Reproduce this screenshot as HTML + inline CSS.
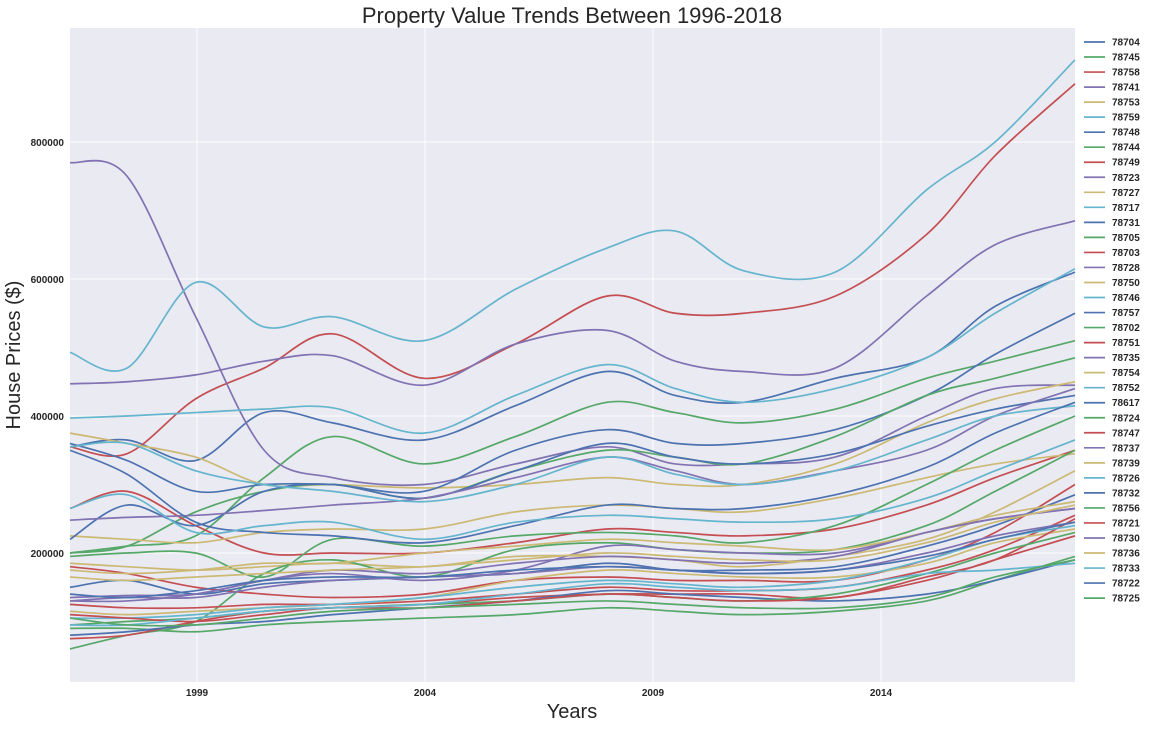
<!DOCTYPE html>
<html><head><meta charset="utf-8"><style>
body{margin:0;background:#fff;font-family:"Liberation Sans",sans-serif;}
svg text{font-family:"Liberation Sans",sans-serif;}
</style></head><body>
<svg id="chart" width="1151" height="728" viewBox="0 0 1151 728" xmlns="http://www.w3.org/2000/svg">
<rect x="70" y="28" width="1005" height="654" fill="#EAEAF2"/>
<g id="grid"></g><g id="lines"></g><g id="axes"></g><g id="legend"></g>
<text x="572" y="23" text-anchor="middle" font-size="22" fill="#262626">Property Value Trends Between 1996-2018</text>
<text x="572" y="718" text-anchor="middle" font-size="20" fill="#262626">Years</text>
<text transform="translate(20,355) rotate(-90)" text-anchor="middle" font-size="20" fill="#262626">House Prices ($)</text>
</svg>
<script>
const years=[1996.25,1997.5,1999,2000.5,2002,2004,2006,2008,2009.5,2011,2013,2015,2016.5,2018.25];
const zips=["78704","78745","78758","78741","78753","78759","78748","78744","78749","78723","78727","78717","78731","78705","78703","78728","78750","78746","78757","78702","78751","78735","78754","78752","78617","78724","78747","78737","78739","78726","78732","78756","78721","78730","78736","78733","78722","78725"];
const s0=[355,365,335,405,390,365,415,465,430,420,455,485,560,610];
const s1=[200,210,225,310,370,330,370,420,405,390,410,455,480,510];
const s2=[355,345,425,470,520,455,505,575,550,550,575,665,780,885];
const s3=[770,750,545,350,310,300,330,355,330,330,340,400,440,445];
const s4=[375,360,340,300,300,295,300,310,300,300,330,390,425,450];
const s5=[493,470,595,530,545,510,585,645,670,612,610,730,800,920];
const s6=[360,335,290,300,300,290,350,380,360,360,380,430,490,550];
const s7=[200,210,260,290,300,280,320,350,340,330,370,430,455,485];
const s8=[265,290,240,200,200,200,215,235,230,225,235,270,310,350];
const s9=[447,450,460,480,488,445,505,525,480,465,470,575,650,685];
const s10=[225,220,215,230,235,235,260,270,265,260,280,310,330,345];
const s11=[397,400,405,410,412,375,430,475,440,420,440,485,550,615];
const s12=[220,270,240,290,300,280,320,360,340,330,345,385,410,430];
const s13=[195,200,200,165,220,210,225,230,225,215,240,300,350,400];
const s14=[180,170,150,140,135,140,160,165,160,160,160,190,230,300];
const s15=[248,252,255,262,270,280,310,340,320,300,320,350,400,440];
const s16=[185,180,175,180,185,180,195,195,190,180,195,220,260,320];
const s17=[355,360,320,300,290,275,300,340,315,300,320,365,400,415];
const s18=[350,315,245,230,225,215,240,270,265,265,285,325,375,420];
const s19=[60,80,100,170,190,165,205,215,205,200,205,240,290,350];
const s20=[125,120,120,125,125,130,140,150,145,145,150,175,205,255];
const s21=[135,138,140,160,170,160,175,210,205,200,200,230,250,265];
const s22=[115,110,115,120,125,135,160,175,170,165,165,185,215,235];
const s23=[265,285,230,240,245,220,245,255,250,245,250,280,320,365];
const s24=[150,160,140,155,160,165,170,185,175,175,180,210,240,285];
const s25=[90,90,85,95,100,105,110,120,115,110,115,130,160,195];
const s26=[75,80,100,115,120,125,135,140,140,140,135,165,190,250];
const s27=[130,135,135,150,160,165,170,180,175,170,175,200,225,245];
const s28=[175,170,175,185,185,200,210,220,215,210,205,230,255,275];
const s29=[105,105,110,120,125,135,150,160,155,150,160,190,220,240];
const s30=[80,85,95,100,110,120,130,145,140,135,130,140,160,190];
const s31=[95,100,105,115,120,125,130,140,135,130,140,170,200,230];
const s32=[110,105,100,110,120,120,130,140,135,130,135,160,190,225];
const s33=[130,130,140,160,175,170,185,195,190,185,195,230,250,265];
const s34=[165,160,165,170,175,180,190,200,195,190,190,215,245,270];
const s35=[95,95,105,115,120,125,140,155,150,145,150,170,175,185];
const s36=[140,135,145,160,165,165,175,180,175,170,175,195,220,245];
const s37=[105,95,95,105,115,120,125,130,125,120,120,135,165,190];
const series=[s0,s1,s2,s3,s4,s5,s6,s7,s8,s9,s10,s11,s12,s13,s14,s15,s16,s17,s18,s19,s20,s21,s22,s23,s24,s25,s26,s27,s28,s29,s30,s31,s32,s33,s34,s35,s36,s37];
const yTicks=[200000,400000,600000,800000];
const xTicks=[1999,2004,2009,2014];
const colors=["#4C72B0","#55A868","#C44E52","#8172B2","#CCB974","#64B5CD"];
const NS="http://www.w3.org/2000/svg";
function xs(yr){return 70+(yr-1996.25)*(1005/22);}
function ys(v){return 690-v*137/200000;}
const grid=document.getElementById('grid'),axes=document.getElementById('axes');
yTicks.forEach(t=>{
 const l=document.createElementNS(NS,'line');
 
 
 l.setAttribute('x1',70);l.setAttribute('x2',1075);l.setAttribute('y1',ys(t));l.setAttribute('y2',ys(t));
 l.setAttribute('stroke','#fff');l.setAttribute('stroke-width','1');grid.appendChild(l);
 const tx=document.createElementNS(NS,'text');
 
 
 tx.setAttribute('x',64);tx.setAttribute('y',ys(t)+4);tx.setAttribute('text-anchor','end');
 tx.setAttribute('font-size','10');tx.setAttribute('font-weight','bold');tx.setAttribute('fill','#262626');
 tx.textContent=t;axes.appendChild(tx);
});
xTicks.forEach(t=>{
 const x=70+(t-1996.25)*45.6*1.0+ (t-1999)*0;
 const px=197+(t-1999)*45.6;
 const l=document.createElementNS(NS,'line');
 
 
 l.setAttribute('x1',px);l.setAttribute('x2',px);l.setAttribute('y1',28);l.setAttribute('y2',682);
 l.setAttribute('stroke','#fff');l.setAttribute('stroke-width','1');grid.appendChild(l);
 const tx=document.createElementNS(NS,'text');
 
 
 tx.setAttribute('x',px);tx.setAttribute('y',696);tx.setAttribute('text-anchor','middle');
 tx.setAttribute('font-size','10');tx.setAttribute('font-weight','bold');tx.setAttribute('fill','#262626');
 tx.textContent=t;axes.appendChild(tx);
});
function pathFor(vals){
 const p=vals.map((v,i)=>[xs(years[i]),ys(v*1000)]);
 let d='M'+p[0][0]+','+p[0][1];
 for(let i=0;i<p.length-1;i++){
  const p0=p[Math.max(0,i-1)],p1=p[i],p2=p[i+1],p3=p[Math.min(p.length-1,i+2)];
  const c1=[p1[0]+(p2[0]-p0[0])/6,p1[1]+(p2[1]-p0[1])/6];
  const c2=[p2[0]-(p3[0]-p1[0])/6,p2[1]-(p3[1]-p1[1])/6];
  d+=' C'+c1[0]+','+c1[1]+' '+c2[0]+','+c2[1]+' '+p2[0]+','+p2[1];
 }
 return d;
}
const lines=document.getElementById('lines'),legend=document.getElementById('legend');
series.forEach((s,i)=>{
 const c=colors[i%6];
 const pth=document.createElementNS(NS,'path');
 
 
 pth.setAttribute('d',pathFor(s));pth.setAttribute('fill','none');pth.setAttribute('stroke',c);pth.setAttribute('stroke-width','1.7');
 lines.appendChild(pth);
 const y=42+i*15.03;
 const ll=document.createElementNS(NS,'line');
 
 
 ll.setAttribute('x1',1084);ll.setAttribute('x2',1105);ll.setAttribute('y1',y);ll.setAttribute('y2',y);
 ll.setAttribute('stroke',c);ll.setAttribute('stroke-width','1.7');legend.appendChild(ll);
 const tx=document.createElementNS(NS,'text');
 
 
 tx.setAttribute('x',1112);tx.setAttribute('y',y+3.5);tx.setAttribute('font-size','10');tx.setAttribute('font-weight','bold');tx.setAttribute('fill','#262626');
 tx.textContent=zips[i];legend.appendChild(tx);
});
</script>
</body></html>
